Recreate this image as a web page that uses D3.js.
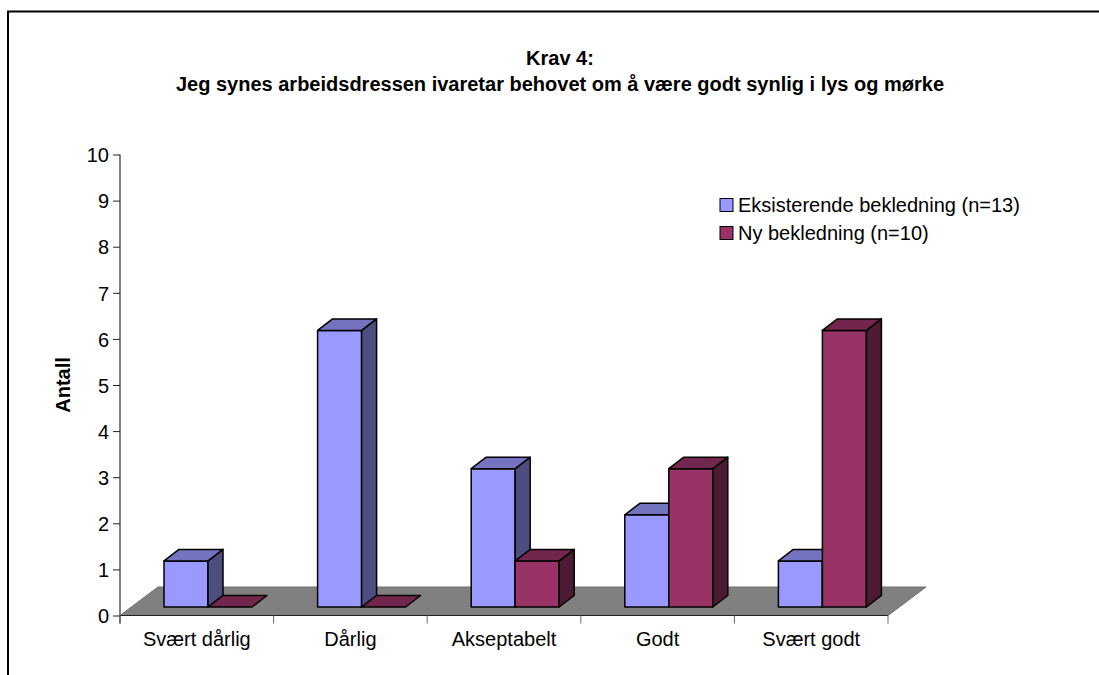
<!DOCTYPE html>
<html><head><meta charset="utf-8">
<script src="https://d3js.org/d3.v7.min.js"></script>
<style>html,body{margin:0;padding:0;background:#fff;overflow:hidden}svg{display:block}text{font-family:"Liberation Sans",Arial,sans-serif;fill:#000}</style>
</head><body><svg id="c" width="1099" height="675"></svg>
<script>
const categories=["Svært dårlig","Dårlig","Akseptabelt","Godt","Svært godt"];
const seriesNames=["Eksisterende bekledning (n=13)","Ny bekledning (n=10)"];
const existing=[1,6,3,2,1];
const newSuit=[0,0,1,3,6];
const yTicks=[0,1,2,3,4,5,6,7,8,9,10];
const titleLines=["Krav 4:","Jeg synes arbeidsdressen ivaretar behovet om å være godt synlig i lys og mørke"];
const yTitle="Antall";
const front=["#9999ff","#993366"],top_=["#7373bf","#73264d"],side=["#4d4d80","#4d1a33"];

const svg=d3.select("#c");
svg.append("path").attr("d","M8 675V11.5H1099").attr("fill","none").attr("stroke","#000").attr("stroke-width",2);

const y=d3.scaleLinear().domain([0,10]).range([615.5,154.5]);
const x=d3.scaleBand().domain(categories).range([120,888]);
const dx=15,dy=11.5,lift=8.5;
const bw=44,pad=44;
const FS="20px";

svg.append("path").attr("d",`M120 ${y(0)}L158 587H926L888 ${y(0)}Z`).attr("fill","#808080").attr("stroke","#6e6e6e").attr("stroke-width",1);

const gy=svg.append("g").attr("transform","translate(120,0)").call(d3.axisLeft(y).tickValues(yTicks).tickSize(7).tickPadding(4).tickFormat(d3.format("d")));
gy.select(".domain").attr("d",`M0 ${y(10)}V${y(0)+8}`).attr("stroke","#808080").attr("stroke-width",2).attr("fill","none");
gy.selectAll(".tick line").attr("stroke","#222");
gy.selectAll("text").style("font-size",FS).style("font-family",'"Liberation Sans",Arial,sans-serif').attr("dy","0.36em");
const gx=svg.append("g").attr("transform",`translate(0,${y(0)})`).call(d3.axisBottom(x).tickSize(0).tickPadding(16));
gx.select(".domain").attr("d","M120 0H888").attr("stroke","#222").attr("stroke-width",1).attr("fill","none");
gx.selectAll("text").style("font-size",FS).style("font-family",'"Liberation Sans",Arial,sans-serif');
gx.selectAll(".sep").data(d3.range(6)).join("line").attr("class","sep")
 .attr("x1",i=>120+x.step()*i).attr("x2",i=>120+x.step()*i).attr("y1",0).attr("y2",8).attr("stroke","#666");

function bar(cat,val,s){
  const x0=x(cat)+pad+s*bw,x1=x0+bw,b=y(0)-lift,t=y(val)-lift;
  const g=svg.append("g").attr("stroke","#000").attr("stroke-width",1.5).attr("stroke-linejoin","round");
  if(val>0){
    g.append("rect").attr("x",x0).attr("y",t).attr("width",bw).attr("height",b-t).attr("fill",front[s]);
    g.append("path").attr("d",`M${x1} ${t}L${x1+dx} ${t-dy}V${b-dy}L${x1} ${b}Z`).attr("fill",side[s]);
  }
  g.append("path").attr("d",`M${x0} ${t}L${x0+dx} ${t-dy}H${x1+dx}L${x1} ${t}Z`).attr("fill",top_[s]);
}
categories.forEach((c,i)=>{bar(c,existing[i],0);bar(c,newSuit[i],1);});

titleLines.forEach((l,i)=>svg.append("text").attr("x",560).attr("y",[65,91][i]).attr("text-anchor","middle").attr("font-weight","bold").attr("font-size",FS).text(l));
svg.append("text").attr("transform","translate(70,385) rotate(-90)").attr("text-anchor","middle").attr("font-weight","bold").attr("font-size",FS).text(yTitle);

seriesNames.forEach((n,i)=>{
  const yy=[205,233][i];
  svg.append("rect").attr("x",720).attr("y",yy-6.5).attr("width",13).attr("height",13).attr("fill",front[i]).attr("stroke","#000").attr("stroke-width",1);
  svg.append("text").attr("x",738).attr("y",yy+7).attr("font-size",FS).text(n);
});
</script></body></html>
